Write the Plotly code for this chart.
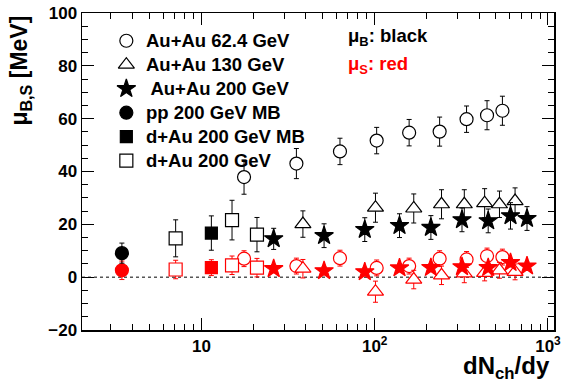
import plotly.graph_objects as go

# ---------------- data ----------------
# Au+Au 62.4 GeV (open circles)
au62_x = [17.6, 35.3, 63, 102.6, 158, 237, 339, 445, 546]
au62_muB = [37.9, 43.0, 47.6, 51.7, 54.7, 55.1, 59.8, 61.3, 63.0]
au62_muB_err = [6.5, 5.7, 5.0, 5.0, 5.0, 5.5, 5.0, 5.5, 5.5]
au62_muS = [7.0, 4.2, 7.2, 3.5, 4.2, 7.0, 6.7, 8.0, 7.6]
au62_muS_err = [3.0, 3.0, 3.0, 3.0, 3.0, 3.0, 3.0, 3.0, 3.0]

# Au+Au 130 GeV (open triangles)
au130_x = [38.5, 101, 168, 243, 329, 431, 525, 646]
au130_muB = [20.1, 26.3, 26.0, 27.6, 27.6, 28.0, 27.6, 28.8]
au130_muB_err = [5.0, 5.5, 5.5, 5.5, 5.5, 5.5, 5.0, 5.0]
au130_muS = [3.2, -5.5, -0.9, 0.7, 1.4, 1.6, 2.6, 2.0]
au130_muS_err = [3.5, 4.0, 3.5, 3.5, 3.5, 3.0, 3.0, 3.0]

# Au+Au 200 GeV (stars)
au200_x = [26.1, 51, 87.6, 139, 211, 319, 452, 608, 757]
au200_muB = [14.5, 15.7, 18.0, 19.5, 18.8, 21.7, 21.3, 23.2, 22.2]
au200_muB_err = [4.0, 4.5, 4.5, 4.5, 4.5, 4.5, 4.5, 5.0, 4.5]
au200_muS = [3.2, 2.4, 2.0, 3.5, 3.6, 3.9, 3.6, 5.5, 4.2]
au200_muS_err = [1.5, 1.5, 1.5, 1.5, 1.5, 1.5, 1.5, 1.5, 1.5]

# pp 200 GeV MB (filled circle)
pp_x = [3.47]
pp_muB = [9.1]
pp_muB_err = [3.8]
pp_muS = [2.6]
pp_muS_err = [3.5]

# d+Au 200 GeV MB (filled square)
dAuMB_x = [11.4]
dAuMB_muB = [16.7]
dAuMB_muB_err = [6.5]
dAuMB_muS = [3.6]
dAuMB_muS_err = [3.0]

# d+Au 200 GeV (open squares)
dAu_x = [7.09, 15.0, 20.9]
dAu_muB = [14.7, 21.6, 16.1]
dAu_muB_err = [7.0, 7.5, 6.5]
dAu_muS = [2.9, 4.5, 3.6]
dAu_muS_err = [3.5, 3.5, 3.5]

legend_labels = ["Au+Au 62.4 GeV", "Au+Au 130 GeV", " Au+Au 200 GeV",
                 "pp 200 GeV MB", "d+Au 200 GeV MB", "d+Au 200 GeV"]

x_tickvals = [10, 100, 1000]
x_ticktext = ["10", "10<sup>2</sup>", "10<sup>3</sup>"]
y_tickvals = [-20, 0, 20, 40, 60, 80, 100]

# ---------------- figure ----------------
FONT = "Liberation Sans, Arial, Helvetica, sans-serif"
BLACK = "#000000"
RED = "#ff0000"

# (x, muB, errB, muS, errS, symbol, size, hollow)
series = [
    (au62_x, au62_muB, au62_muB_err, au62_muS, au62_muS_err, "circle", 13, True),
    (au130_x, au130_muB, au130_muB_err, au130_muS, au130_muS_err, "triangle-up", 14, True),
    (au200_x, au200_muB, au200_muB_err, au200_muS, au200_muS_err, "star", 14, False),
    (pp_x, pp_muB, pp_muB_err, pp_muS, pp_muS_err, "circle", 13, False),
    (dAuMB_x, dAuMB_muB, dAuMB_muB_err, dAuMB_muS, dAuMB_muS_err, "square", 12, False),
    (dAu_x, dAu_muB, dAu_muB_err, dAu_muS, dAu_muS_err, "square", 13, True),
]

fig = go.Figure()

# dashed zero line
fig.add_shape(type="line", xref="paper", x0=0, x1=1, yref="y", y0=0, y1=0,
              line=dict(color=BLACK, width=1, dash="3px,3px"), layer="below")

for (xs, yb, eb, ys, es, sym, sz, hollow), name in zip(series, legend_labels):
    for yv, ev, col in ((ys, es, RED), (yb, eb, BLACK)):
        fig.add_trace(go.Scatter(
            x=xs, y=yv, mode="markers", name=name, showlegend=False,
            marker=dict(symbol=sym, size=sz,
                        color="white" if hollow else col,
                        line=dict(color=col, width=1.2)),
            error_y=dict(type="data", array=ev, visible=True, color=col,
                         thickness=1, width=2.5),
        ))

# ---- hand-drawn legend (ROOT style, no frame) on an overlay 0..1 axis ----
# plot area in page pixels: x 82..561, y 10..330
LEG_MARK_X = (127 - 82) / 479
LEG_TEXT_X = (145 - 82) / 479
row_y = [1 - (38 + 24.2 * i - 10) / 320 for i in range(len(legend_labels))]
for i, ((xs, yb, eb, ys, es, sym, sz, hollow), name) in enumerate(zip(series, legend_labels)):
    fig.add_trace(go.Scatter(
        x=[LEG_MARK_X], y=[row_y[i]], xaxis="x2", yaxis="y2", mode="markers",
        showlegend=False, hoverinfo="skip",
        marker=dict(symbol=sym, size=sz, color="white" if hollow else BLACK,
                    line=dict(color=BLACK, width=1.2)),
    ))
    fig.add_annotation(text=name, xref="paper", yref="paper", x=LEG_TEXT_X, y=row_y[i],
                       xanchor="left", yanchor="middle", showarrow=False,
                       font=dict(family=FONT, size=18.5, color=BLACK, weight="bold"))

axis_common = dict(ticks="inside", ticklen=12, tickwidth=1, tickcolor=BLACK,
                   showgrid=False, zeroline=False, showline=True, linecolor=BLACK,
                   linewidth=1.5, mirror="ticks", ticklabeloverflow="allow",
                   tickfont=dict(family=FONT, size=17, color=BLACK, weight="bold"))

fig.update_layout(
    width=565, height=388,
    margin=dict(l=82, r=4, t=10, b=58),
    paper_bgcolor="white", plot_bgcolor="white",
    font=dict(family=FONT, size=17, color=BLACK, weight="bold"),
    showlegend=False,
    xaxis=dict(type="log", range=[0.31, 3.035],
               tickvals=x_tickvals, ticktext=x_ticktext,
               minor=dict(tickvals=[2, 3, 4, 5, 6, 7, 8, 9, 20, 30, 40, 50, 60, 70, 80, 90,
                                    200, 300, 400, 500, 600, 700, 800, 900],
                          ticks="inside", ticklen=6, tickcolor=BLACK, tickwidth=1),
               **axis_common),
    yaxis=dict(range=[-20, 100], tickvals=y_tickvals,
               minor=dict(dtick=5, ticks="inside", ticklen=6, tickcolor=BLACK, tickwidth=1),
               **axis_common),
    xaxis2=dict(overlaying="x", range=[0, 1], visible=False, fixedrange=True),
    yaxis2=dict(overlaying="y", range=[0, 1], visible=False, fixedrange=True),
)

# axis titles
fig.add_annotation(text="μ<sub>B,S</sub> [MeV]", xref="paper", yref="paper",
                   x=-0.13, y=0.997, xanchor="center", yanchor="top", textangle=-90,
                   showarrow=False, font=dict(family=FONT, size=23, color=BLACK, weight="bold"))
fig.add_annotation(text="dN<sub>ch</sub>/dy", xref="paper", yref="paper",
                   x=0.995, y=-0.118, xanchor="right", yanchor="middle",
                   showarrow=False, font=dict(family=FONT, size=24, color=BLACK, weight="bold"))

# colour key
fig.add_annotation(text="μ<sub>B</sub>: black", xref="paper", yref="paper",
                   x=0.56, y=0.925, xanchor="left", yanchor="middle",
                   showarrow=False, font=dict(family=FONT, size=18.5, color=BLACK, weight="bold"))
fig.add_annotation(text="μ<sub>S</sub>: red", xref="paper", yref="paper",
                   x=0.56, y=0.835, xanchor="left", yanchor="middle",
                   showarrow=False, font=dict(family=FONT, size=18.5, color=RED, weight="bold"))

# remove the browser's default 8px body margin so the figure fills the window exactly
fig.write_html("out.html",
               config={"displayModeBar": False, "staticPlot": True},
               post_script="document.body.style.margin='0';document.body.style.overflow='hidden';")
